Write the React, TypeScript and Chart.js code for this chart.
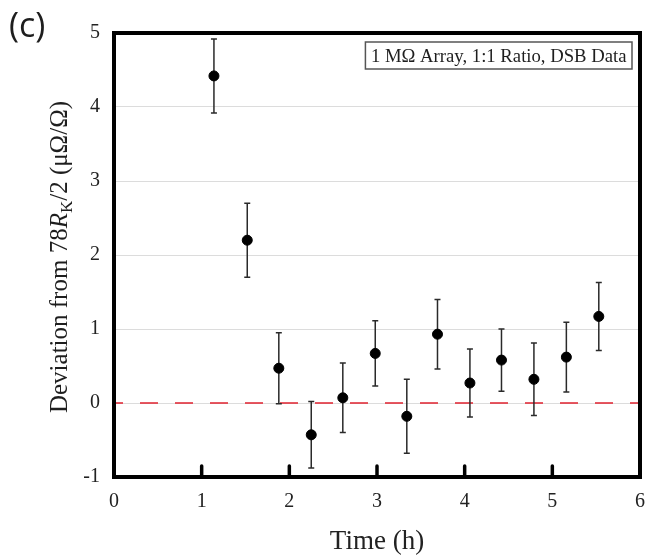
import React, { useEffect, useRef } from 'react';
import { Chart, registerables } from 'chart.js';

Chart.register(...registerables);

// ---- data ----
const times = [1.14, 1.52, 1.88, 2.25, 2.61, 2.98, 3.34, 3.69, 4.06, 4.42, 4.79, 5.16, 5.53];
const deviations = [4.42, 2.2, 0.47, -0.43, 0.07, 0.67, -0.18, 0.93, 0.27, 0.58, 0.32, 0.62, 1.17];
const uncertainties = [0.5, 0.5, 0.48, 0.45, 0.47, 0.44, 0.5, 0.47, 0.46, 0.42, 0.49, 0.47, 0.46];
const innerTickValues = [1, 2, 3, 4, 5];
const xRange = [0, 6];
const yRange = [-1, 5];
const panelLabel = '(c)';
const legendText = '1 MΩ Array, 1:1 Ratio, DSB Data';
const xTitle = 'Time (h)';
const yTitleParts = [
  { text: 'Deviation from 78', style: 'normal' },
  { text: 'R', style: 'italic' },
  { text: 'K', style: 'sub' },
  { text: '/2 (μΩ/Ω)', style: 'normal' },
];

const SERIF = '"Liberation Serif", "Times New Roman", serif';

export default function App() {
  const ref = useRef<HTMLCanvasElement>(null);

  useEffect(() => {
    const canvas = ref.current!;

    const decor = {
      id: 'decor',
      beforeDatasetsDraw(chart: any) {
        const { ctx, chartArea: a, scales } = chart;
        const x = scales.x;
        const y = scales.y;
        ctx.save();
        // zero reference line
        const y0 = y.getPixelForValue(0);
        ctx.strokeStyle = '#e0222f';
        ctx.lineWidth = 1.6;
        ctx.setLineDash([18, 17]);
        ctx.lineDashOffset = 9;
        ctx.beginPath();
        ctx.moveTo(a.left, y0);
        ctx.lineTo(a.right, y0);
        ctx.stroke();
        ctx.setLineDash([]);
        // error bars
        ctx.strokeStyle = '#2a2a2a';
        ctx.lineWidth = 1.5;
        times.forEach((t, i) => {
          const px = x.getPixelForValue(t);
          const top = y.getPixelForValue(deviations[i] + uncertainties[i]);
          const bot = y.getPixelForValue(deviations[i] - uncertainties[i]);
          ctx.beginPath();
          ctx.moveTo(px, top);
          ctx.lineTo(px, bot);
          ctx.moveTo(px - 3, top);
          ctx.lineTo(px + 3, top);
          ctx.moveTo(px - 3, bot);
          ctx.lineTo(px + 3, bot);
          ctx.stroke();
        });
        ctx.restore();
      },
      afterDraw(chart: any) {
        const { ctx, chartArea: a, scales } = chart;
        const x = scales.x;
        ctx.save();
        // frame
        ctx.strokeStyle = '#000';
        ctx.lineWidth = 4;
        ctx.strokeRect(a.left, a.top, a.right - a.left, a.bottom - a.top);
        // inner x tick marks
        ctx.lineWidth = 3.5;
        ctx.lineCap = 'round';
        innerTickValues.forEach((v) => {
          const px = x.getPixelForValue(v);
          ctx.beginPath();
          ctx.moveTo(px, a.bottom);
          ctx.lineTo(px, a.bottom - 11);
          ctx.stroke();
        });
        ctx.lineCap = 'butt';

        // legend box
        ctx.font = `18.7px ${SERIF}`;
        const tw = ctx.measureText(legendText).width;
        const bx1 = a.right - 8;
        const bw = tw + 11;
        const bx0 = bx1 - bw;
        const by0 = a.top + 9;
        const bh = 27;
        ctx.fillStyle = '#fff';
        ctx.fillRect(bx0, by0, bw, bh);
        ctx.strokeStyle = '#555';
        ctx.lineWidth = 1.5;
        ctx.strokeRect(bx0, by0, bw, bh);
        ctx.fillStyle = '#1e1e1e';
        ctx.textBaseline = 'alphabetic';
        ctx.textAlign = 'left';
        ctx.fillText(legendText, bx0 + 5.5, by0 + 20);

        // panel label
        ctx.font = `34px "Open Sans", "Noto Sans", sans-serif`;
        ctx.fillStyle = '#1e1e1e';
        ctx.fillText(panelLabel, 9, 37);

        // y title with italic R and subscript K
        const size = 25;
        const fontFor = (style: string) =>
          style === 'italic'
            ? `italic ${size}px ${SERIF}`
            : style === 'sub'
            ? `${Math.round(size * 0.68)}px ${SERIF}`
            : `${size}px ${SERIF}`;
        let total = 0;
        const widths = yTitleParts.map((p) => {
          ctx.font = fontFor(p.style);
          const w = ctx.measureText(p.text).width;
          total += w;
          return w;
        });
        ctx.translate(67, 257);
        ctx.rotate(-Math.PI / 2);
        let cx = -total / 2;
        yTitleParts.forEach((p, i) => {
          ctx.font = fontFor(p.style);
          ctx.fillText(p.text, cx, p.style === 'sub' ? 5 : 0);
          cx += widths[i];
        });
        ctx.restore();
      },
    };

    const chart = new Chart(canvas, {
      type: 'scatter',
      data: {
        datasets: [
          {
            data: times.map((t, i) => ({ x: t, y: deviations[i] })),
            backgroundColor: '#000',
            borderColor: '#000',
            pointRadius: 5,
            pointHoverRadius: 5,
            pointStyle: 'circle',
          },
        ],
      },
      options: {
        animation: false,
        responsive: false,
        events: [],
        layout: { padding: { top: 33, right: 14, left: 0, bottom: 0 } },
        plugins: { legend: { display: false }, tooltip: { enabled: false }, title: { display: false } },
        scales: {
          x: {
            type: 'linear',
            min: xRange[0],
            max: xRange[1],
            ticks: { stepSize: 1, font: { family: SERIF, size: 20 }, color: '#222', padding: 13 },
            grid: { display: false, drawTicks: false },
            border: { display: false },
            title: { display: true, text: xTitle, font: { family: SERIF, size: 27 }, color: '#222', padding: 0 },
            afterFit: (s: any) => {
              s.height = 81;
              s.paddingLeft = 0;
              s.paddingRight = 0;
            },
          },
          y: {
            type: 'linear',
            min: yRange[0],
            max: yRange[1],
            ticks: { stepSize: 1, font: { family: SERIF, size: 20 }, color: '#222', padding: 14 },
            grid: {
              drawTicks: false,
              lineWidth: 1,
              color: (c: any) =>
                c.tick && (c.tick.value === yRange[0] || c.tick.value === yRange[1]) ? 'rgba(0,0,0,0)' : '#dcdcdc',
            },
            border: { display: false },
            afterFit: (s: any) => {
              s.width = 114;
            },
          },
        },
      },
      plugins: [decor],
    });

    return () => chart.destroy();
  }, []);

  return (
    <div style={{ position: 'fixed', left: 0, top: 0, width: 654, height: 558, background: '#fff' }}>
      <canvas ref={ref} width={654} height={558} />
    </div>
  );
}
